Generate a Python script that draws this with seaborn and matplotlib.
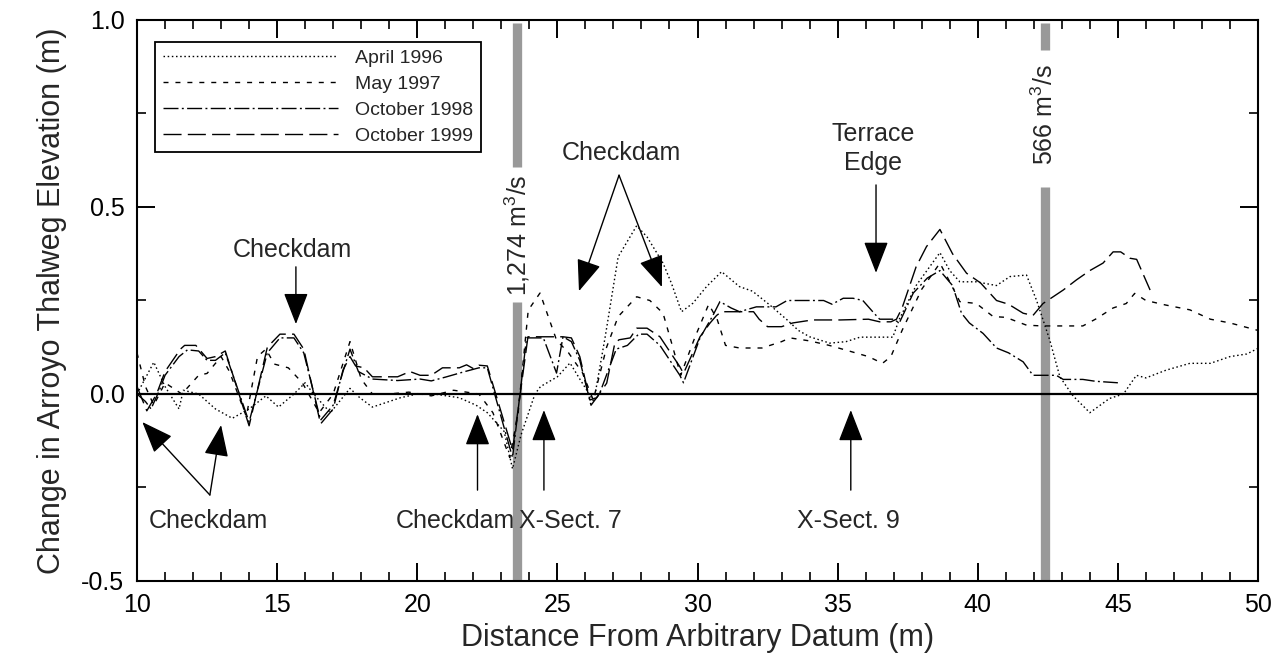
import matplotlib
matplotlib.use("Agg")
import matplotlib.pyplot as plt
import seaborn as sns
import pandas as pd
from matplotlib.ticker import MultipleLocator

# ---------------- data ----------------
april_x = [10.0, 10.6, 11.0, 11.5, 11.65, 12.2, 12.8, 13.4, 14.0, 14.6, 15.05, 15.6, 16.0, 16.3,
           16.9, 17.6, 17.95, 18.4, 19.0, 19.4, 20.0, 20.6, 21.5, 22.1, 22.5, 23.1, 23.4, 23.7,
           24.2, 24.4, 25.0, 25.45, 25.8, 26.3, 26.7, 27.17, 27.83, 28.2, 28.77, 29.07, 29.43,
           29.84, 30.32, 30.86, 31.5, 31.96, 32.58, 33.2, 33.6, 34.0, 34.72, 35.3, 35.8, 36.97,
           37.2, 37.8, 38.65, 39.0, 39.36, 39.95, 40.67, 41.15, 41.74, 42.1, 42.57, 42.93, 43.4,
           44.0, 44.7, 45.2, 45.66, 46.0, 46.73, 47.57, 48.3, 49.0, 49.6, 50.0]
april_y = [0.0, 0.085, 0.02, -0.04, 0.01, 0.0, -0.04, -0.065, -0.04, -0.005, -0.035, 0.0, 0.03, 0.0,
           -0.05, 0.015, -0.01, -0.035, -0.02, -0.01, 0.0, 0.0, -0.01, -0.03, -0.05, -0.1, -0.2, -0.11,
           0.0, 0.02, 0.046, 0.083, 0.04, -0.02, 0.15, 0.367, 0.45, 0.42, 0.35, 0.296, 0.22,
           0.243, 0.287, 0.327, 0.287, 0.275, 0.238, 0.198, 0.17, 0.153, 0.136, 0.14, 0.152, 0.152,
           0.2, 0.29, 0.378, 0.33, 0.3, 0.3, 0.29, 0.314, 0.318, 0.25, 0.144, 0.046, -0.005,
           -0.05, -0.012, 0.0, 0.05, 0.043, 0.064, 0.082, 0.082, 0.1, 0.107, 0.122]

may_x = [10.0, 10.3, 10.6, 11.0, 11.6, 12.2, 12.5, 13.0, 13.3, 13.9, 14.3, 14.6, 14.9, 15.4, 15.9,
         16.5, 17.0, 17.6, 18.0, 18.4, 19.0, 19.7, 20.5, 21.3, 22.2, 22.7, 23.3, 23.6, 23.96,
         24.38, 24.97, 25.4, 25.9, 26.28, 26.76, 27.17, 27.83, 28.3, 28.77, 29.1, 29.4, 29.9,
         30.4, 30.7, 31.0, 31.5, 32.3, 33.0, 33.3, 34.0, 34.7, 35.5, 36.1, 36.6, 36.9, 37.3,
         38.0, 38.65, 39.0, 39.36, 39.95, 40.55, 41.0, 41.74, 42.3, 43.75, 44.2, 44.83, 45.3,
         45.6, 46.0, 46.7, 47.57, 48.3, 49.0, 50.0]
may_y = [0.11, 0.02, -0.03, 0.03, 0.0, 0.05, 0.055, 0.1, 0.06, -0.06, 0.1, 0.12, 0.08, 0.07, 0.03,
         -0.05, 0.0, 0.14, 0.04, 0.0, 0.0, 0.005, -0.005, 0.01, 0.0, -0.05, -0.17, -0.05, 0.224,
         0.27, 0.144, 0.11, 0.056, -0.016, 0.126, 0.207, 0.26, 0.25, 0.216, 0.13, 0.05, 0.15,
         0.24, 0.2, 0.13, 0.123, 0.123, 0.14, 0.15, 0.142, 0.13, 0.113, 0.1, 0.082, 0.1, 0.17,
         0.28, 0.35, 0.3, 0.247, 0.242, 0.207, 0.205, 0.184, 0.182, 0.182, 0.2, 0.23, 0.242,
         0.269, 0.25, 0.238, 0.225, 0.2, 0.19, 0.17]

oct98_x = [10.0, 10.3, 10.5, 10.8, 11.0, 11.5, 11.8, 12.2, 12.5, 12.8, 13.15, 14.0, 14.65, 15.1,
           15.6, 15.95, 16.55, 17.0, 17.35, 17.6, 17.9, 18.4, 19.3, 20.1, 20.5, 21.0, 21.7, 22.2,
           22.5, 23.4, 23.9, 24.5, 24.97, 25.2, 25.5, 25.8, 26.2, 26.5, 26.8, 27.1, 27.5, 27.9,
           28.2, 28.66, 29.37, 29.5, 30.09, 30.55, 30.8, 31.2, 31.5, 32.1, 32.8, 33.2, 34.5, 34.8,
           35.2, 35.55, 35.9, 36.3, 36.5, 37.0, 37.2, 37.7, 38.2, 38.65, 39.1, 39.42, 39.7, 40.19,
           40.67, 41.1, 41.62, 41.97, 42.8, 43.05, 43.75, 44.2, 45.0]
oct98_y = [0.0, -0.02, -0.04, 0.01, 0.05, 0.1, 0.118, 0.115, 0.09, 0.09, 0.11, -0.075, 0.11, 0.15,
           0.15, 0.11, -0.07, -0.03, 0.06, 0.12, 0.06, 0.04, 0.036, 0.04, 0.035, 0.045, 0.06, 0.07,
           0.07, -0.17, 0.15, 0.15, 0.056, 0.153, 0.14, 0.09, -0.03, 0.0, 0.06, 0.12, 0.13, 0.16,
           0.16, 0.13, 0.05, 0.03, 0.15, 0.21, 0.247, 0.23, 0.22, 0.233, 0.233, 0.25, 0.25, 0.24,
           0.256, 0.256, 0.25, 0.216, 0.2, 0.2, 0.19, 0.27, 0.31, 0.33, 0.29, 0.216, 0.19, 0.162,
           0.123, 0.11, 0.086, 0.05, 0.05, 0.039, 0.039, 0.034, 0.03]

oct99_x = [10.0, 10.35, 10.7, 11.0, 11.55, 11.7, 12.1, 12.5, 12.8, 13.15, 14.0, 14.65, 15.1, 15.6,
           15.95, 16.55, 17.0, 17.35, 17.6, 17.8, 18.1, 18.4, 19.3, 19.74, 20.1, 20.5, 20.9, 21.5,
           21.76, 22.0, 22.2, 22.5, 23.4, 23.95, 24.85, 25.2, 25.5, 25.8, 26.16, 26.4, 26.76,
           27.05, 27.2, 27.6, 27.83, 28.2, 28.66, 29.37, 29.5, 30.09, 30.45, 30.68, 30.86, 31.3,
           32.0, 32.2, 32.5, 33.0, 33.4, 34.1, 35.1, 36.1, 36.5, 36.9, 37.1, 37.3, 37.8, 38.17,
           38.65, 39.1, 39.6, 40.1, 40.67, 41.1, 41.62, 41.97, 42.33, 43.05, 43.52, 44.0, 44.47,
           44.83, 45.1, 45.43, 45.67, 46.15]
oct99_y = [0.02, -0.045, 0.0, 0.06, 0.12, 0.13, 0.13, 0.095, 0.1, 0.115, -0.085, 0.125, 0.16, 0.16,
           0.12, -0.08, -0.04, 0.064, 0.1, 0.075, 0.07, 0.046, 0.046, 0.06, 0.05, 0.05, 0.07, 0.07,
           0.078, 0.068, 0.077, 0.075, -0.15, 0.153, 0.153, 0.153, 0.15, 0.1, -0.016, -0.01, 0.029,
           0.136, 0.145, 0.15, 0.176, 0.176, 0.153, 0.073, 0.055, 0.153, 0.19, 0.21, 0.22, 0.22,
           0.22, 0.2, 0.18, 0.18, 0.19, 0.198, 0.198, 0.2, 0.193, 0.193, 0.2, 0.23, 0.34, 0.394,
           0.44, 0.375, 0.323, 0.297, 0.25, 0.24, 0.216, 0.21, 0.242, 0.278, 0.305, 0.33, 0.35,
           0.38, 0.38, 0.363, 0.36, 0.278]

series_names = ["April 1996", "May 1997", "October 1998", "October 1999"]
x_ticks = [10, 15, 20, 25, 30, 35, 40, 45, 50]
y_ticks = [-0.5, 0.0, 0.5, 1.0]

# ---------------- style ----------------
sns.set_theme(style="white")
plt.rcParams["font.family"] = ["Liberation Sans", "DejaVu Sans"]
plt.rcParams["mathtext.default"] = "regular"

fig = plt.figure(figsize=(12.88, 6.68), dpi=100)
ax = fig.add_axes([137 / 1288, 1 - 581 / 668, 1121 / 1288, 561 / 668])

dash_styles = [(0, (1.1, 1.9)), (0, (3.6, 5.0)), (0, (10.8, 2.4, 1.4, 2.4)), (0, (13.0, 4.5))]
all_x = [april_x, may_x, oct98_x, oct99_x]
all_y = [april_y, may_y, oct98_y, oct99_y]

handles = []
for name, xs, ys, ls in zip(series_names, all_x, all_y, dash_styles):
    df = pd.DataFrame({"x": xs, "y": ys})
    sns.lineplot(data=df, x="x", y="y", ax=ax, color="black", lw=1.0, linestyle=ls,
                 sort=False, estimator=None, label=name, legend=False)
    handles.append(ax.get_lines()[-1])

# zero line
ax.axhline(0, color="black", lw=1.6, zorder=1)

# gray discharge bars with labels
bar_color = "#999999"
ax.axvline(23.57, ymin=0.0, ymax=0.497, color=bar_color, lw=6.7, solid_capstyle="butt", zorder=0.5)
ax.axvline(23.57, ymin=0.738, ymax=0.995, color=bar_color, lw=6.7, solid_capstyle="butt", zorder=0.5)
ax.axvline(42.39, ymin=0.0, ymax=0.702, color=bar_color, lw=6.7, solid_capstyle="butt", zorder=0.5)
ax.axvline(42.39, ymin=0.9465, ymax=0.995, color=bar_color, lw=6.7, solid_capstyle="butt", zorder=0.5)
ax.text(23.57, 0.425, "1,274 m$^3$/s", rotation=90, ha="center", va="center", fontsize=18)
ax.text(42.39, 0.746, "566 m$^3$/s", rotation=90, ha="center", va="center", fontsize=18)

arrow_kw = dict(arrowstyle="-|>,head_length=0.9,head_width=0.35", color="black", lw=1.0,
                mutation_scale=22, shrinkA=0, shrinkB=0)

# annotations
ax.text(15.53, 0.366, "Checkdam", ha="center", va="baseline", fontsize=18)
ax.annotate("", xy=(15.67, 0.187), xytext=(15.67, 0.34), arrowprops=arrow_kw)

ax.text(27.29, 0.626, "Checkdam", ha="center", va="baseline", fontsize=18)
ax.annotate("", xy=(25.77, 0.275), xytext=(27.2, 0.585), arrowprops=arrow_kw)
ax.annotate("", xy=(28.73, 0.286), xytext=(27.2, 0.585), arrowprops=arrow_kw)

ax.text(36.26, 0.599, "Terrace\nEdge", ha="center", va="baseline", fontsize=18, linespacing=1.25)
ax.annotate("", xy=(36.37, 0.324), xytext=(36.37, 0.559), arrowprops=arrow_kw)

ax.text(12.55, -0.34, "Checkdam", ha="center", va="center", fontsize=18)
ax.annotate("", xy=(10.19, -0.075), xytext=(12.6, -0.27), arrowprops=arrow_kw)
ax.annotate("", xy=(13.0, -0.083), xytext=(12.6, -0.27), arrowprops=arrow_kw)

ax.text(21.35, -0.34, "Checkdam", ha="center", va="center", fontsize=18)
ax.annotate("", xy=(22.15, -0.054), xytext=(22.15, -0.257), arrowprops=arrow_kw)

ax.text(25.45, -0.34, "X-Sect. 7", ha="center", va="center", fontsize=18)
ax.annotate("", xy=(24.52, -0.043), xytext=(24.52, -0.257), arrowprops=arrow_kw)

ax.text(35.4, -0.34, "X-Sect. 9", ha="center", va="center", fontsize=18)
ax.annotate("", xy=(35.47, -0.043), xytext=(35.47, -0.257), arrowprops=arrow_kw)

# axes
ax.set_xlim(10, 50)
ax.set_ylim(-0.5, 1.0)
ax.set_xticks(x_ticks)
ax.set_yticks(y_ticks)
ax.set_yticklabels([f"{v:.1f}" for v in y_ticks])
ax.xaxis.set_minor_locator(MultipleLocator(1))
ax.yaxis.set_minor_locator(MultipleLocator(0.25))
ax.tick_params(which="both", direction="in", top=True, right=True, bottom=True, left=True,
               colors="black", labelsize=18)
ax.tick_params(which="major", length=13, width=1.4, pad=9)
ax.tick_params(which="minor", length=6.5, width=1.2)
for sp in ax.spines.values():
    sp.set_color("black")
    sp.set_linewidth(1.5)

ax.set_xlabel("Distance From Arbitrary Datum (m)", fontsize=22, labelpad=4)
ax.set_ylabel("Change in Arroyo Thalweg Elevation (m)", fontsize=22, labelpad=10)

leg = ax.legend(handles=handles, labels=series_names, loc="upper left",
                bbox_to_anchor=(0.016, 0.961), borderaxespad=0, fontsize=14,
                handlelength=9.0, handletextpad=0.9, labelspacing=0.42, borderpad=0.4,
                frameon=True, fancybox=False, framealpha=1, edgecolor="black")
leg.get_frame().set_linewidth(1.3)

fig.savefig("out.png", dpi=100)
